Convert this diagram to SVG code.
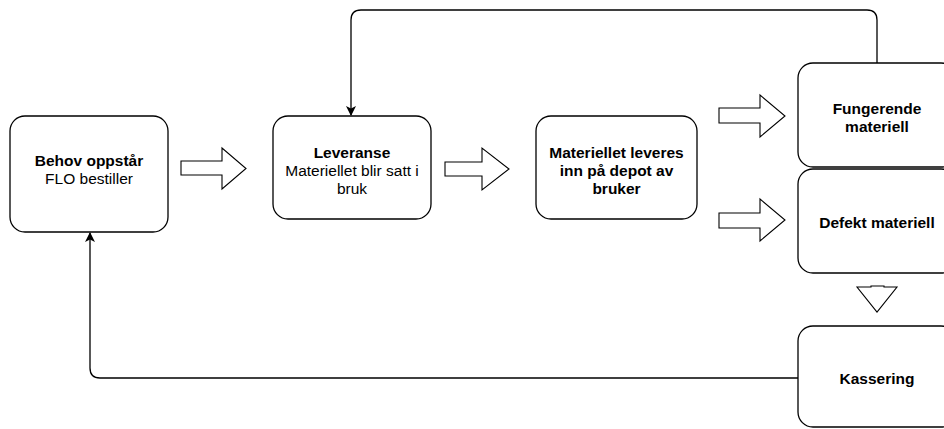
<svg xmlns="http://www.w3.org/2000/svg" width="944" height="429" viewBox="0 0 944 429">
<defs>
<style>
.box{fill:#fff;stroke:#000;stroke-width:1.3}
.blk{fill:#fff;stroke:#000;stroke-width:1.1}
.t{font-family:"Liberation Sans",Arial,sans-serif;font-size:15.5px;fill:#000;text-anchor:middle}
.b{font-weight:bold}
.c{fill:none;stroke:#000;stroke-width:1.3}
</style>
<marker id="ah" markerWidth="10" markerHeight="10" refX="9" refY="5" orient="auto" markerUnits="userSpaceOnUse">
<path d="M0,0 L10,5 L0,10 L2.5,5 Z" fill="#000"/>
</marker>
</defs>
<g id="connectors">
<path class="c" d="M877,63 V20 Q877,10 867,10 H361 Q351,10 351,20 V115" marker-end="url(#ah)"/>
<path class="c" d="M798,378 H100 Q90,378 90,368 V233" marker-end="url(#ah)"/>
<polygon class="blk" points="181,161 222,161 222,148 246,168.5 222,189 222,175 181,175"/>
<polygon class="blk" points="445,162 482,162 482,148 509,169 482,190 482,176 445,176"/>
<polygon class="blk" points="719,108 760,108 760,95 785,116 760,137 760,123 719,123"/>
<polygon class="blk" points="719,213 760,213 760,199 785,220 760,241 760,228 719,228"/>
<polygon class="blk" points="857,287 871,287 871,286 884,286 884,287 897,287 877,312"/>
</g>
<g id="behov">
<rect class="box" x="10" y="116" width="158" height="116" rx="15"/>
<text class="t b" x="89" y="166">Behov oppstår</text>
<text class="t" x="89" y="184">FLO bestiller</text>
</g>
<g id="leveranse">
<rect class="box" x="273" y="116" width="158" height="103" rx="15"/>
<text class="t b" x="352" y="158">Leveranse</text>
<text class="t" x="352" y="176">Materiellet blir satt i</text>
<text class="t" x="352" y="194">bruk</text>
</g>
<g id="levert">
<rect class="box" x="536" y="116" width="161" height="103" rx="15"/>
<text class="t b" x="616.5" y="158">Materiellet leveres</text>
<text class="t b" x="616.5" y="176">inn på depot av</text>
<text class="t b" x="616.5" y="194">bruker</text>
</g>
<g id="fungerende">
<rect class="box" x="798" y="63" width="158" height="104" rx="15"/>
<text class="t b" x="877" y="114">Fungerende</text>
<text class="t b" x="877" y="132">materiell</text>
</g>
<g id="defekt">
<rect class="box" x="798" y="169" width="158" height="104" rx="15"/>
<text class="t b" x="877" y="228">Defekt materiell</text>
</g>
<g id="kassering">
<rect class="box" x="798" y="326" width="158" height="101" rx="15"/>
<text class="t b" x="877" y="384">Kassering</text>
</g>
</svg>
